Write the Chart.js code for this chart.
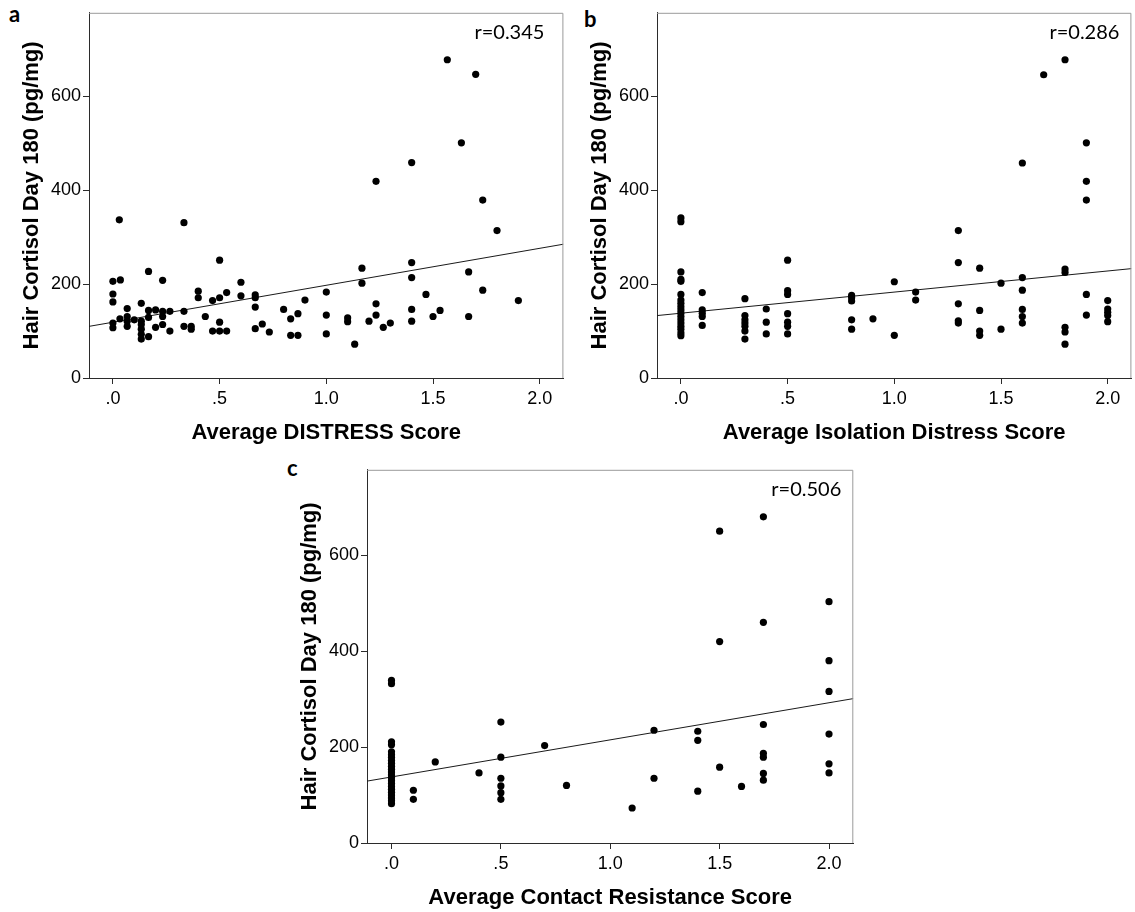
<!DOCTYPE html>
<html>
<head>
<meta charset="utf-8">
<script src="https://cdn.jsdelivr.net/npm/chart.js@4"></script>
<style>
  html, body { margin:0; padding:0; background:#fff; }
  body { width:1135px; height:912px; position:relative; overflow:hidden; }
  .panel { position:absolute; }
  .letter { position:absolute; font-family:Lato, "Open Sans", sans-serif; font-weight:bold; font-size:22px; line-height:22px; color:#000; }
</style>
</head>
<body>
<div class="letter" style="left:9px;top:3px;">a</div>
<div class="letter" style="left:584px;top:8px;">b</div>
<div class="letter" style="left:287px;top:457px;">c</div>
<div class="panel" style="left:0px;top:0px;"><canvas id="pa" width="567" height="446"></canvas></div>
<div class="panel" style="left:568px;top:0px;"><canvas id="pb" width="567" height="446"></canvas></div>
<div class="panel" style="left:278px;top:457px;"><canvas id="pc" width="580" height="454"></canvas></div>
<script>
// ---- axis settings ----
const xTicks = [0, 0.5, 1, 1.5, 2];
const xTickLabels = ['.0', '.5', '1.0', '1.5', '2.0'];
const yTicks = [0, 200, 400, 600];
const yTickLabels = ['0', '200', '400', '600'];
const xRange = [-0.112, 2.111];
const yRange = [0, 778];
const yTitle = 'Hair Cortisol Day 180 (pg/mg)';

// ---- panel a: Average DISTRESS Score ----
const distressPoints = [
  [0.03,337],[0.333,331],[0,206],[0.035,209],[0.167,227],[0.233,208],[0.5,251],[0.6,204],
  [0,179],[0,162],[0.4,185],[0.4,171],[0.467,165],[0.5,171],[0.533,182],[0.6,175],
  [0.667,177],[0.667,171],[0.667,151],[0.067,148],[0.133,159],[0.167,144],[0.2,145],
  [0.233,142],[0.233,131],[0.267,142],[0.333,142],[0.433,131],[0,117],[0,107],[0.033,126],
  [0.067,131],[0.067,121],[0.067,110],[0.1,124],[0.133,121],[0.133,114],[0.133,104],
  [0.133,93],[0.133,83],[0.167,88],[0.167,129],[0.2,108],[0.233,114],[0.267,100],
  [0.333,110],[0.367,110],[0.367,104],[0.467,100],[0.5,119],[0.5,100],[0.533,100],
  [0.667,105],[0.7,115],[0.733,98],[0.8,146],[0.833,126],[0.867,137],[0.9,166],
  [0.833,91],[0.867,91],[1.0,183],[1.0,134],[1.0,94],[1.1,128],[1.1,120],[1.133,72],
  [1.167,234],[1.167,202],[1.2,121],[1.233,158],[1.233,134],[1.233,419],[1.267,108],
  [1.3,117],[1.4,459],[1.4,246],[1.4,214],[1.4,146],[1.4,121],[1.467,178],[1.5,131],
  [1.533,144],[1.567,678],[1.633,501],[1.667,226],[1.667,131],[1.7,647],[1.733,379],
  [1.733,187],[1.8,314],[1.9,165]
];
const distressFit = [110, 285];
const distressR = 'r=0.345';

// ---- panel b: Average Isolation Distress Score ----
const isolationPoints = [
  [0,341],[0,333],[0,226],[0,210],[0,206],[0,178],[0,166],[0,159],[0,152],[0,145],
  [0,138],[0,131],[0,124],[0,117],[0,110],[0,104],[0,96],[0,90],
  [0.1,182],[0.1,145],[0.1,138],[0.1,131],[0.1,112],
  [0.3,169],[0.3,133],[0.3,124],[0.3,117],[0.3,110],[0.3,100],[0.3,83],
  [0.4,147],[0.4,119],[0.4,94],
  [0.5,251],[0.5,186],[0.5,178],[0.5,137],[0.5,119],[0.5,110],[0.5,94],
  [0.8,176],[0.8,171],[0.8,164],[0.8,124],[0.8,104],
  [0.9,126],[1.0,205],[1.0,91],[1.1,183],[1.1,166],
  [1.3,314],[1.3,246],[1.3,158],[1.3,122],[1.3,117],
  [1.4,234],[1.4,144],[1.4,100],[1.4,91],
  [1.5,202],[1.5,104],
  [1.6,458],[1.6,214],[1.6,187],[1.6,146],[1.6,131],[1.6,117],
  [1.7,646],
  [1.8,678],[1.8,232],[1.8,225],[1.8,108],[1.8,98],[1.8,72],
  [1.9,501],[1.9,419],[1.9,379],[1.9,178],[1.9,134],
  [2.0,165],[2.0,147],[2.0,140],[2.0,133],[2.0,120]
];
const isolationFit = [133, 233];
const isolationR = 'r=0.286';

// ---- panel c: Average Contact Resistance Score ----
const contactPoints = [
  [0,339],[0,332],[0,211],[0,205],[0,190],[0,184],[0,178],[0,172],[0,166],[0,160],
  [0,154],[0,148],[0,142],[0,136],[0,130],[0,124],[0,118],[0,112],[0,106],[0,100],
  [0,94],[0,88],[0,82],
  [0.1,110],[0.1,91],[0.2,169],[0.4,146],
  [0.5,252],[0.5,179],[0.5,135],[0.5,119],[0.5,105],[0.5,91],
  [0.7,203],[0.8,120],[1.1,73],[1.2,235],[1.2,135],
  [1.4,233],[1.4,214],[1.4,108],
  [1.5,650],[1.5,420],[1.5,158],[1.6,118],
  [1.7,680],[1.7,460],[1.7,247],[1.7,187],[1.7,179],[1.7,145],[1.7,131],
  [2.0,503],[2.0,380],[2.0,316],[2.0,227],[2.0,165],[2.0,146]
];
const contactFit = [129, 301];
const contactR = 'r=0.506';

const AX = '#2b2b2b';
const framePlugin = {
  id: 'frameAndR',
  afterDraw(chart, args, opts) {
    const {ctx, chartArea: a} = chart;
    ctx.save();
    ctx.strokeStyle = '#9a9a9a';
    ctx.lineWidth = 1;
    ctx.beginPath();
    ctx.moveTo(a.left, a.top + 0.5);
    ctx.lineTo(a.right - 0.5, a.top + 0.5);
    ctx.lineTo(a.right - 0.5, a.bottom);
    ctx.stroke();
    ctx.fillStyle = '#000';
    ctx.font = '20px Lato, "Open Sans", sans-serif';
    ctx.textAlign = 'right';
    ctx.textBaseline = 'middle';
    ctx.fillText(opts.text, a.right - opts.gap, a.top + 20);
    ctx.restore();
  }
};

function makePanel(id, pts, fit, rText, gap, xTitle, pad) {
  new Chart(document.getElementById(id), {
    type: 'scatter',
    data: {
      datasets: [
        {
          type: 'line',
          data: [{x: xRange[0], y: fit[0]}, {x: xRange[1], y: fit[1]}],
          borderColor: '#1a1a1a', borderWidth: 1, pointRadius: 0, fill: false, order: 2
        },
        {
          data: pts.map(p => ({x: p[0], y: p[1]})),
          backgroundColor: '#000', borderColor: '#000', borderWidth: 0,
          pointRadius: 3.6, pointHoverRadius: 3.6, order: 1
        }
      ]
    },
    options: {
      responsive: false,
      animation: false,
      devicePixelRatio: 1,
      layout: { padding: pad },
      plugins: {
        legend: { display: false },
        tooltip: { enabled: false },
        frameAndR: { text: rText, gap: gap }
      },
      scales: {
        x: {
          type: 'linear', min: xRange[0], max: xRange[1],
          afterBuildTicks: s => { s.ticks = xTicks.map(v => ({value: v})); },
          afterFit: s => { s.height = 68; },
          ticks: {
            callback: (v, i) => xTickLabels[i],
            font: { family: '"Liberation Sans", Arial, sans-serif', size: 18 },
            color: '#000', padding: 4, maxRotation: 0, autoSkip: false
          },
          grid: { drawOnChartArea: false, drawTicks: true, tickLength: 6, color: AX },
          border: { color: AX, width: 1 },
          title: {
            display: true, text: xTitle, color: '#000',
            font: { family: '"Liberation Sans", Arial, sans-serif', size: 22, weight: 'bold' },
            padding: { top: 0, bottom: 0 }
          }
        },
        y: {
          type: 'linear', min: yRange[0], max: yRange[1],
          afterBuildTicks: s => { s.ticks = yTicks.map(v => ({value: v})); },
          afterFit: s => { s.width = 89; },
          ticks: {
            callback: (v, i) => yTickLabels[i],
            font: { family: '"Liberation Sans", Arial, sans-serif', size: 18 },
            color: '#000', padding: 2, autoSkip: false
          },
          grid: { drawOnChartArea: false, drawTicks: true, tickLength: 6, color: AX },
          border: { color: AX, width: 1 },
          title: {
            display: true, text: yTitle, color: '#000',
            font: { family: '"Liberation Sans", Arial, sans-serif', size: 22, weight: 'bold' },
            padding: { top: 18.5, bottom: 0 }
          }
        }
      }
    },
    plugins: [framePlugin]
  });
}

makePanel('pa', distressPoints, distressFit, distressR, 19, 'Average DISTRESS Score', {top: 5, right: 2.5, left: 0, bottom: 0});
makePanel('pb', isolationPoints, isolationFit, isolationR, 12, 'Average Isolation Distress Score', {top: 5, right: 3.3, left: 0, bottom: 0});
makePanel('pc', contactPoints, contactFit, contactR, 12, 'Average Contact Resistance Score', {top: 5, right: 4.7, left: 0, bottom: 0});
</script>
</body>
</html>
